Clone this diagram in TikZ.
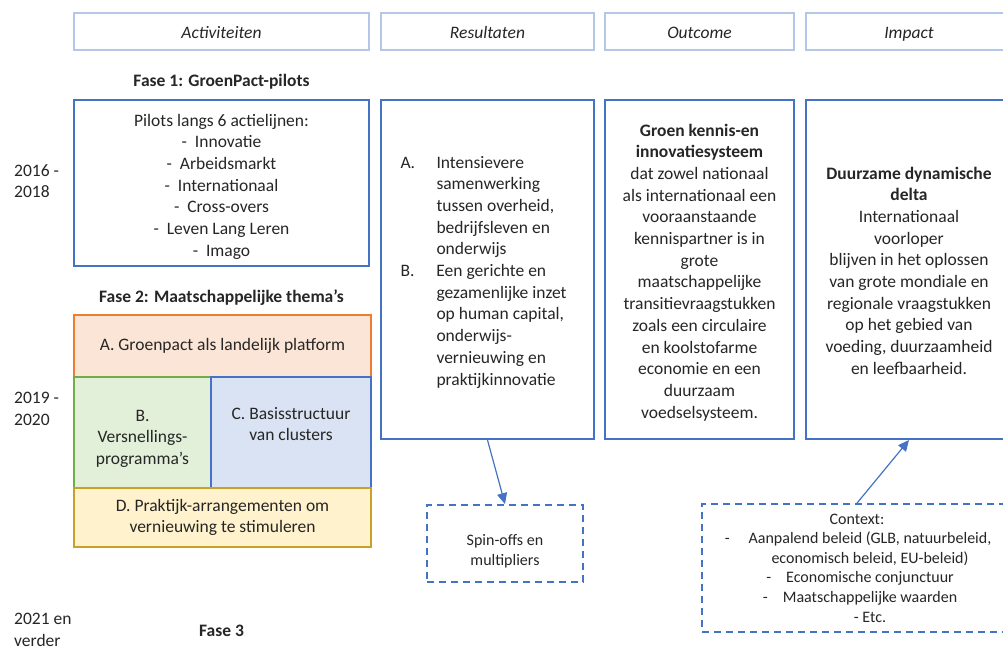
\documentclass[tikz,border=0pt]{standalone}
\usepackage{fontspec}
\setmainfont{Carlito}
\usetikzlibrary{arrows.meta}
\definecolor{hdr}{HTML}{B4C7E7}
\definecolor{mblue}{HTML}{4472C4}
\definecolor{txt}{HTML}{262626}
\definecolor{afill}{HTML}{FBE5D6}
\definecolor{aline}{HTML}{ED7D31}
\definecolor{bfill}{HTML}{E2F0D9}
\definecolor{bline}{HTML}{70AD47}
\definecolor{cfill}{HTML}{DAE3F3}
\definecolor{dfill}{HTML}{FFF2CC}
\definecolor{dline}{HTML}{C9A02A}
\newcommand\fsz{\fontsize{17.5}{21.7}\selectfont}
\newcommand\fss{\fontsize{16}{19.6}\selectfont}
% place a top-aligned block with its first baseline #1 above the node centre
\newcommand\topblock[2]{\raisebox{#1}[0pt][0pt]{\begin{tabular}[t]{@{}c@{}}#2\end{tabular}}}
\tikzset{
  hdrbox/.style={draw=hdr, line width=2pt, minimum height=37pt, inner sep=0pt, text height=16pt, text depth=2pt, font=\fsz\itshape, text=txt},
  bigbox/.style={draw=mblue, line width=2pt, inner sep=0pt, font=\fsz, text=txt, align=center},
  thbox/.style={line width=1.8pt, inner sep=0pt, font=\fsz, text=txt, align=center},
  dashbox/.style={draw=mblue, line width=1.8pt, dash pattern=on 7pt off 5pt, inner sep=0pt, font=\fss, text=txt, align=center},
  lbl/.style={inner sep=0pt, font=\fsz, text=txt, align=left},
  fase/.style={inner sep=0pt, font=\fsz\bfseries, text=txt},
  conn/.style={draw=mblue, line width=1.2pt, -{Triangle[length=11pt,width=10pt]}}
}
\begin{document}
\begin{tikzpicture}[x=1pt,y=-1pt]
\clip (0,0) rectangle (1003,651);
\fill[white] (0,0) rectangle (1003,651);
% headers
\node[hdrbox, minimum width=295pt] (hact) at (221.5,31.5) {Activiteiten};
\node[hdrbox, minimum width=213pt] (hres) at (487.5,31.5) {Resultaten};
\node[hdrbox, minimum width=189pt] (hout) at (699.5,31.5) {Outcome};
\node[hdrbox, minimum width=206pt] (himp) at (909,31.5) {Impact};
% phase titles
\node[fase] (f1) at (221.5,82) {Fase 1: GroenPact-pilots};
\node[fase] (f2) at (221.5,298) {Fase 2: Maatschappelijke thema’s};
\node[fase] (f3) at (221.5,631) {Fase 3};
% years
\node[lbl, anchor=west] (y1) at (14,181) {2016 -\\2018};
\node[lbl, anchor=west] (y2) at (14,409) {2019 -\\2020};
\node[lbl, anchor=west] (y3) at (14,630) {2021 en\\verder};
% fase 1 box
\node[bigbox, minimum width=295pt, minimum height=166pt] (p1) at (221.5,183)
 {\topblock{57pt}{Pilots langs 6 actielijnen:\\
  -\ \ Innovatie\\
  -\ \ Arbeidsmarkt\\
  -\ \ Internationaal\\
  -\ \ Cross-overs\\
  -\ \ Leven Lang Leren\\
  -\ \ Imago}};
% fase 2 boxes
\node[thbox, draw=aline, fill=afill, minimum width=297pt, minimum height=62pt] (ta) at (222.5,346)
 {A. Groenpact als landelijk platform};
\node[thbox, draw=bline, fill=bfill, minimum width=137pt, minimum height=111pt] (tb) at (142.5,432.5)
 {\topblock{11.5pt}{B.\\Versnellings-\\programma’s}};
\node[thbox, draw=mblue, fill=cfill, minimum width=160pt, minimum height=111pt] (tc) at (291,432.5)
 {\topblock{13.5pt}{C. Basisstructuur\\van clusters}};
\node[thbox, draw=dline, fill=dfill, minimum width=297pt, minimum height=59pt] (td) at (222.5,517.5)
 {D. Praktijk-arrangementen om\\vernieuwing te stimuleren};
% results
\node[bigbox, minimum width=213pt, minimum height=339pt] (res) at (487.5,269.5)
 {\raisebox{101.5pt}[0pt][0pt]{\begin{tabular}[t]{@{}p{36pt}@{}l@{}}
 A. & Intensievere\\
    & samenwerking\\
    & tussen overheid,\\
    & bedrijfsleven en\\
    & onderwijs\\
 B. & Een gerichte en\\
    & gezamenlijke inzet\\
    & op human capital,\\
    & onderwijs-\\
    & vernieuwing en\\
    & praktijkinnovatie
 \end{tabular}}\hspace*{8pt}};
% outcome
\node[bigbox, minimum width=189pt, minimum height=339pt] (out) at (699.5,269.5)
 {\topblock{133.5pt}{\textbf{Groen kennis-en}\\
  \textbf{innovatiesysteem}\\
  dat zowel nationaal\\
  als internationaal een\\
  vooraanstaande\\
  kennispartner is in\\
  grote\\
  maatschappelijke\\
  transitievraagstukken\\
  zoals een circulaire\\
  en koolstofarme\\
  economie en een\\
  duurzaam\\
  voedselsysteem.}};
% impact
\node[bigbox, minimum width=206pt, minimum height=339pt] (imp) at (909,269.5)
 {\topblock{90.5pt}{\textbf{Duurzame dynamische}\\
  \textbf{delta}\\
  Internationaal\\
  voorloper\\
  blijven in het oplossen\\
  van grote mondiale en\\
  regionale vraagstukken\\
  op het gebied van\\
  voeding, duurzaamheid\\
  en leefbaarheid.}};
% dashed boxes
\node[dashbox, minimum width=156pt, minimum height=77pt] (spin) at (505,543.5)
 {\raisebox{-2pt}[0pt][0pt]{\begin{tabular}[t]{@{}c@{}}Spin-offs en\\multipliers\end{tabular}}};
\node[dashbox, minimum width=310pt, minimum height=128pt] (ctx) at (857,568)
 {Context:\\
  \hspace*{26pt}\llap{-\hspace{19pt}}Aanpalend beleid (GLB, natuurbeleid,\\
  \hspace*{26pt}economisch beleid, EU-beleid)\\
  \hspace*{26pt}\llap{-\hspace{15pt}}Economische conjunctuur\\
  \hspace*{26pt}\llap{-\hspace{15pt}}Maatschappelijke waarden\\
  \hspace*{26pt}- Etc.};
% connectors
\draw[conn] (res.south) -- (spin.north);
\draw[conn] (ctx.north) -- (imp.south);
\end{tikzpicture}
\end{document}
